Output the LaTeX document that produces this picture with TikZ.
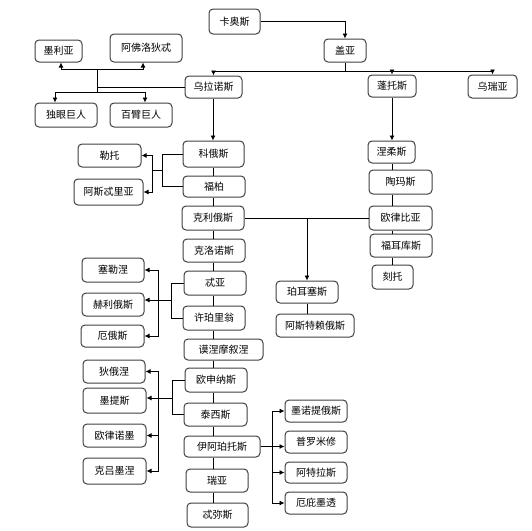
\documentclass[tikz,border=0pt]{standalone}
\usepackage{fontspec}
\newfontfamily\cjk{Noto Sans CJK SC}
\usetikzlibrary{arrows.meta}
\definecolor{boxline}{HTML}{404040}
\tikzset{
  box/.style={draw=boxline, line width=1pt, rounded corners=4pt, fill=white,
    inner sep=0pt, font=\cjk\fontsize{10}{12}\selectfont, text=black},
  conn/.style={draw=black, line width=0.8pt},
  arr/.style={conn, -{Latex[length=5pt,width=5pt]}}
}
\newcommand{\bx}[5]{\node[box, minimum width=#3pt, minimum height=#4pt] (#1) at (#2) {#5};}
\begin{document}
\begin{tikzpicture}[x=1pt,y=-1pt]
\useasboundingbox (0,0) rectangle (532,530);
% nodes
\bx{kaos}{234.5,21.5}{51}{25}{卡奥斯}
\bx{gaia}{345,50.5}{42}{23}{盖亚}
\bx{meli}{58.5,51}{47}{22}{墨利亚}
\bx{aphro}{146,48}{72}{28}{阿佛洛狄忒}
\bx{uranus}{213.5,87}{57}{22}{乌拉诺斯}
\bx{cyc}{66,115}{62}{24}{独眼巨人}
\bx{hek}{141,115}{62}{24}{百臂巨人}
\bx{pontus}{392,86}{48}{22}{蓬托斯}
\bx{ourea}{492.5,86.5}{49}{23}{乌瑞亚}
\bx{nereus}{391.5,152}{47}{22}{涅柔斯}
\bx{thaumas}{400.5,182}{63}{24}{陶玛斯}
\bx{eurybia}{400.5,218}{63}{24}{欧律比亚}
\bx{phorcys}{401,245.5}{62}{23}{福耳库斯}
\bx{ceto}{392.5,277}{41}{24}{刻托}
\bx{coeus}{213.5,154}{61}{26}{科俄斯}
\bx{phoebe}{214,186.5}{62}{21}{福柏}
\bx{crius}{213,218}{62}{24}{克利俄斯}
\bx{cronus}{214,250.5}{62}{23}{克洛诺斯}
\bx{theia}{215,283}{62}{24}{忒亚}
\bx{hyperion}{214,318}{62}{24}{许珀里翁}
\bx{leto}{109.5,155.5}{63}{23}{勒托}
\bx{asteria}{108.5,192}{69}{26}{阿斯忒里亚}
\bx{selene}{113,270}{62}{24}{塞勒涅}
\bx{helios}{113,304.5}{62}{23}{赫利俄斯}
\bx{eos}{112.5,336}{63}{22}{厄俄斯}
\bx{perses}{307,292}{62}{22}{珀耳塞斯}
\bx{astraeus}{315,325.5}{78}{23}{阿斯特赖俄斯}
\bx{mnemo}{223.5,349.5}{79}{21}{谟涅摩叙涅}
\bx{oceanus}{216,380}{62}{24}{欧申纳斯}
\bx{tethys}{215.5,414.5}{63}{23}{泰西斯}
\bx{iapetus}{222,446.5}{76}{21}{伊阿珀托斯}
\bx{rhea}{217,480.5}{62}{23}{瑞亚}
\bx{themis}{217.5,515}{61}{24}{忒弥斯}
\bx{dione}{114,371.5}{62}{23}{狄俄涅}
\bx{metis}{114.5,400.5}{63}{25}{墨提斯}
\bx{eurynome}{114.5,435.5}{63}{23}{欧律诺墨}
\bx{clymene}{114.5,471}{63}{26}{克吕墨涅}
\bx{menoe}{316,411}{62}{22}{墨诺提俄斯}
\bx{prom}{316,442}{62}{22}{普罗米修}
\bx{atlas}{316,472.5}{62}{21}{阿特拉斯}
\bx{epim}{316,503}{62}{22}{厄庇墨透}
% junction coordinates
\coordinate (gbus) at (345,71);
\coordinate (ua) at (97,69);
\coordinate (uj) at (97,87);
\coordinate (ub) at (97,92);
\coordinate (X) at (213,0);
\coordinate (X2) at (392,0);
\coordinate (br1) at (162,0);
\coordinate (lb1) at (152,170);
\coordinate (br2) at (171,0);
\coordinate (lb2) at (158,300);
\coordinate (br3) at (172,0);
\coordinate (lb3) at (158,398);
\coordinate (lb4) at (272,446.5);
% Chaos -> Gaia
\draw[arr] (kaos.east) -| (gaia.north);
% Gaia children
\draw[conn] (gaia.south) -- (gbus);
\draw[arr] (gbus) -| (uranus.north);
\draw[arr] (gbus) -| (pontus.north);
\draw[arr] (gbus) -| (ourea.north);
% Uranus side children
\draw[conn] (uranus.west) -- (uj);
\draw[conn] (ua) -- (ub);
\draw[arr] (ua) -| ([xshift=2.5pt]meli.south);
\draw[arr] (ua) -| ([xshift=-3pt]aphro.south);
\draw[arr] (ub) -| ([xshift=-11pt]cyc.north);
\draw[arr] (ub) -| ([xshift=4pt]hek.north);
% Uranus -> Coeus
\draw[arr] (X |- uranus.south) -- (X |- coeus.north);
% main chain
\draw[conn] (X |- coeus.south) -- (X |- phoebe.north);
\draw[conn] (X |- phoebe.south) -- (X |- crius.north);
\draw[conn] (X |- crius.south) -- (X |- cronus.north);
\draw[conn] (X |- cronus.south) -- (X |- theia.north);
\draw[conn] (X |- theia.south) -- (X |- hyperion.north);
\draw[conn] (X |- hyperion.south) -- (X |- mnemo.north);
\draw[conn] (X |- mnemo.south) -- (X |- oceanus.north);
\draw[conn] (X |- oceanus.south) -- (X |- tethys.north);
\draw[conn] (X |- tethys.south) -- (X |- iapetus.north);
\draw[conn] (X |- iapetus.south) -- (X |- rhea.north);
\draw[conn] (X |- rhea.south) -- (X |- themis.north);
% Coeus + Phoebe -> Leto, Asteria
\draw[conn] (coeus.west) -- (coeus.west -| br1) |- (phoebe.west);
\draw[conn] (lb1 -| br1) -- (lb1);
\draw[arr] (lb1) |- (leto.east);
\draw[arr] (lb1) |- (asteria.east);
% Theia + Hyperion -> Selene, Helios, Eos
\draw[conn] (theia.west) -- (theia.west -| br2) |- (hyperion.west);
\draw[conn] (lb2 -| br2) -- (lb2);
\draw[arr] (lb2) |- (selene.east);
\draw[arr] (lb2) -- (lb2 -| helios.east);
\draw[arr] (lb2) |- (eos.east);
% Oceanus + Tethys -> daughters
\draw[conn] (oceanus.west) -- (oceanus.west -| br3) |- (tethys.west);
\draw[conn] (lb3 -| br3) -- (lb3);
\draw[arr] (lb3) |- (dione.east);
\draw[arr] (lb3) -- (lb3 -| metis.east);
\draw[arr] (lb3) |- (eurynome.east);
\draw[arr] (lb3) |- (clymene.east);
% Crius + Eurybia -> Perses
\draw[conn] (crius.east) -- (crius.east -| eurybia.west);
\draw[arr] (crius.east -| perses.north) -- (perses.north);
\draw[conn] (perses.south) -- (perses.south |- astraeus.north);
% Pontus line
\draw[arr] (pontus.south) -- (pontus.south |- nereus.north);
\draw[conn] (X2 |- nereus.south) -- (X2 |- thaumas.north);
\draw[conn] (X2 |- thaumas.south) -- (X2 |- eurybia.north);
\draw[conn] (X2 |- eurybia.south) -- (X2 |- phorcys.north);
\draw[conn] (X2 |- phorcys.south) -- (X2 |- ceto.north);
% Iapetus -> sons
\draw[conn] (iapetus.east) -- (lb4);
\draw[arr] (lb4) |- (menoe.west);
\draw[arr] (lb4) -- (lb4 -| prom.west);
\draw[arr] (lb4) |- (atlas.west);
\draw[arr] (lb4) |- (epim.west);
\end{tikzpicture}
\end{document}
